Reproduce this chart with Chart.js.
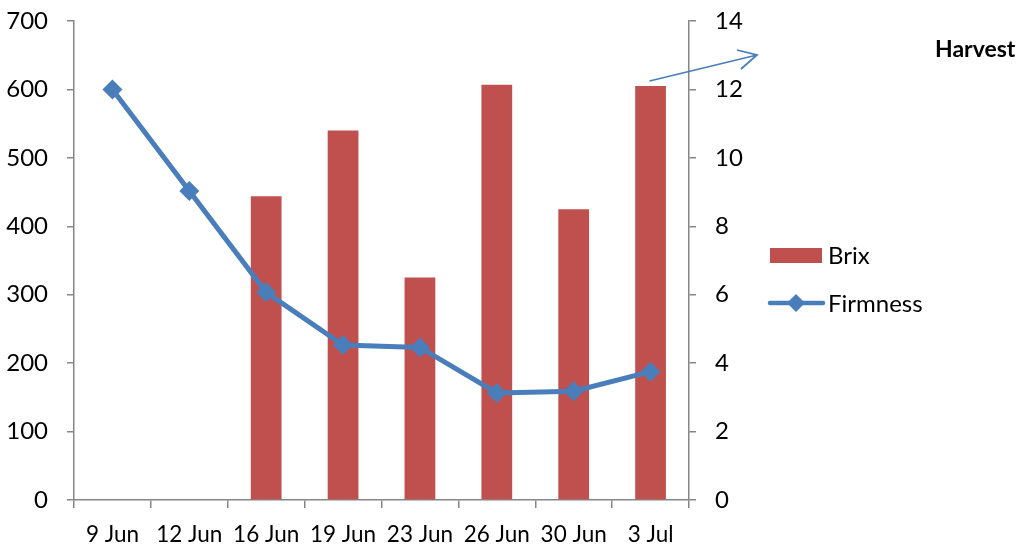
<!DOCTYPE html>
<html>
<head>
<meta charset="utf-8">
<script src="https://cdn.jsdelivr.net/npm/chart.js@4/dist/chart.umd.min.js"></script>
<style>
  html, body { margin: 0; padding: 0; background: #fff; }
  #wrap { width: 1023px; height: 551px; }
</style>
</head>
<body>
<div id="wrap"><canvas id="c" width="1023" height="551"></canvas></div>
<script>
'use strict';

// ── Data ─────────────────────────────────────────────────────────────────────
const dates    = ['9 Jun', '12 Jun', '16 Jun', '19 Jun', '23 Jun', '26 Jun', '30 Jun', '3 Jul'];
const brix     = [null, null, 444, 540, 325, 607, 425, 605];
const firmness = [12, 9.03, 6.07, 4.53, 4.46, 3.13, 3.18, 3.75];
const leftTicks  = [0, 100, 200, 300, 400, 500, 600, 700];
const rightTicks = [0, 2, 4, 6, 8, 10, 12, 14];

// ── Style ────────────────────────────────────────────────────────────────────
const RED   = '#C0504D';
const BLUE  = '#4A7EBB';
const AXIS  = '#868686';
const FONT  = 'Lato, "DejaVu Sans", sans-serif';

// legend + "Harvest" note + arrow, drawn beside the plot
const sidePlugin = {
  id: 'side',
  afterDraw(chart) {
    const ctx = chart.ctx;
    const ds = chart.data.datasets;
    ctx.save();
    ctx.font = '24px ' + FONT;
    ctx.fillStyle = '#000';
    ctx.textBaseline = 'middle';
    ctx.textAlign = 'left';

    // Brix
    ctx.fillStyle = ds[0].backgroundColor;
    ctx.fillRect(770, 248, 52, 15);
    ctx.fillStyle = '#000';
    ctx.fillText(ds[0].label, 828, 256);

    // Firmness
    ctx.strokeStyle = ds[1].borderColor;
    ctx.lineWidth = 4.5;
    ctx.lineCap = 'round';
    ctx.beginPath();
    ctx.moveTo(770, 303);
    ctx.lineTo(823, 303);
    ctx.stroke();
    ctx.fillStyle = ds[1].borderColor;
    ctx.beginPath();
    ctx.moveTo(796, 294); ctx.lineTo(805, 303); ctx.lineTo(796, 312); ctx.lineTo(787, 303);
    ctx.closePath();
    ctx.fill();
    ctx.fillStyle = '#000';
    ctx.fillText(ds[1].label, 828, 304);

    // Harvest note
    ctx.font = 'bold 23px ' + FONT;
    ctx.fillText('Harvest', 935, 50);

    // arrow from the last point towards the note
    const xs = chart.scales.x;
    const x0 = xs.getPixelForValue(dates.length - 1);
    ctx.strokeStyle = BLUE;
    ctx.lineWidth = 1.8;
    ctx.lineCap = 'butt';
    ctx.beginPath();
    ctx.moveTo(x0 - 1, 81);
    ctx.lineTo(757, 55);
    ctx.moveTo(737, 50);
    ctx.lineTo(757, 55);
    ctx.lineTo(741, 69);
    ctx.stroke();
    ctx.restore();
  }
};

function noPad(s) { s.paddingTop = 0; s.paddingBottom = 0; }

new Chart(document.getElementById('c'), {
  type: 'bar',
  data: {
    labels: dates,
    datasets: [
      {
        type: 'bar',
        label: 'Brix',
        data: brix,
        backgroundColor: RED,
        borderWidth: 0,
        barPercentage: 0.4,
        categoryPercentage: 1,
        yAxisID: 'y',
        order: 2
      },
      {
        type: 'line',
        label: 'Firmness',
        data: firmness,
        borderColor: BLUE,
        backgroundColor: BLUE,
        borderWidth: 5,
        tension: 0,
        pointStyle: 'rectRot',
        pointRadius: 10,
        pointBorderWidth: 0,
        pointBackgroundColor: BLUE,
        yAxisID: 'y1',
        order: 1
      }
    ]
  },
  options: {
    responsive: false,
    animation: false,
    layout: { padding: { top: 21, left: 0, right: 0, bottom: 0 } },
    plugins: { legend: { display: false }, tooltip: { enabled: false } },
    scales: {
      x: {
        offset: true,
        grid: { offset: true, drawOnChartArea: false, drawTicks: true, tickLength: 8, color: AXIS, lineWidth: 1.5 },
        border: { display: true, color: AXIS, width: 1.5 },
        ticks: { color: '#000', font: { family: FONT, size: 22.5 }, padding: 13, maxRotation: 0, autoSkip: false },
        afterFit(s) { s.height = 51; }
      },
      y: {
        position: 'left',
        min: 0, max: 700,
        afterBuildTicks(s) { s.ticks = leftTicks.map(v => ({ value: v })); },
        grid: { drawOnChartArea: false, drawTicks: true, tickLength: 7, color: AXIS, lineWidth: 1.5 },
        border: { display: true, color: AXIS, width: 1.5 },
        ticks: { color: '#000', font: { family: FONT, size: 24 }, padding: 19 },
        afterFit(s) { s.width = 74; noPad(s); }
      },
      y1: {
        position: 'right',
        min: 0, max: 14,
        afterBuildTicks(s) { s.ticks = rightTicks.map(v => ({ value: v })); },
        grid: { drawOnChartArea: false, drawTicks: true, tickLength: 7, color: AXIS, lineWidth: 1.5 },
        border: { display: true, color: AXIS, width: 1.5 },
        ticks: { color: '#000', font: { family: FONT, size: 24 }, padding: 19 },
        afterFit(s) { s.width = 334; noPad(s); }
      }
    }
  },
  plugins: [sidePlugin]
});
</script>
</body>
</html>
